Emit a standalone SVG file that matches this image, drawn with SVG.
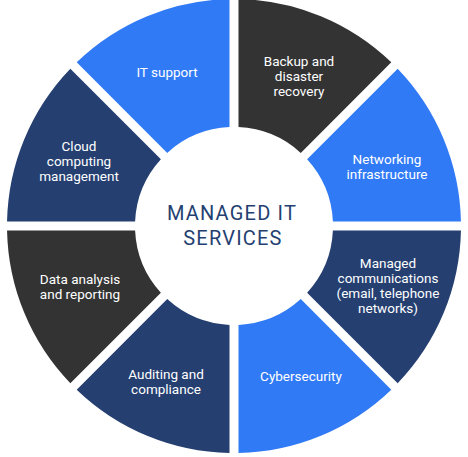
<svg xmlns="http://www.w3.org/2000/svg" xmlns:xlink="http://www.w3.org/1999/xlink" width="468" height="457" viewBox="0 0 468 457">
  <style>
    .blue { fill: #317AF6; }
    .navy { fill: #253F71; }
    .dark { fill: #333333; }
    .lbl { font-family: Roboto, "Liberation Sans", sans-serif; font-size: 13.5px; fill: #FFFFFF; text-anchor: middle; }
    .title { font-family: Roboto, "Liberation Sans", sans-serif; font-size: 20px; fill: #253F71; text-anchor: middle; letter-spacing: 1.2px; }
  </style>
  <defs>
    <path id="sec" d="M238.5,-0.96 A227,227 0 0 1 391.30,62.34 L300.75,152.89 A99,99 0 0 0 238.5,127.10 Z"/>
  </defs>
  <rect width="468" height="457" fill="#FFFFFF"/>
  <g id="connectors"/>
  <g id="backup">
    <use xlink:href="#sec" href="#sec" class="dark"/>
    <text class="lbl" x="299" y="66">Backup and</text>
    <text class="lbl" x="299" y="81">disaster</text>
    <text class="lbl" x="299" y="96">recovery</text>
  </g>
  <g id="networking">
    <use xlink:href="#sec" href="#sec" class="blue" transform="rotate(45 234 226)"/>
    <text class="lbl" x="387" y="164">Networking</text>
    <text class="lbl" x="387" y="179">infrastructure</text>
  </g>
  <g id="communications">
    <use xlink:href="#sec" href="#sec" class="navy" transform="rotate(90 234 226)"/>
    <text class="lbl" x="388" y="268">Managed</text>
    <text class="lbl" x="388" y="283">communications</text>
    <text class="lbl" x="388" y="298">(email, telephone</text>
    <text class="lbl" x="388" y="313">networks)</text>
  </g>
  <g id="cybersecurity">
    <use xlink:href="#sec" href="#sec" class="blue" transform="rotate(135 234 226)"/>
    <text class="lbl" x="301" y="381">Cybersecurity</text>
  </g>
  <g id="auditing">
    <use xlink:href="#sec" href="#sec" class="navy" transform="rotate(180 234 226)"/>
    <text class="lbl" x="166" y="379">Auditing and</text>
    <text class="lbl" x="166" y="394">compliance</text>
  </g>
  <g id="data-analysis">
    <use xlink:href="#sec" href="#sec" class="dark" transform="rotate(225 234 226)"/>
    <text class="lbl" x="80" y="284">Data analysis</text>
    <text class="lbl" x="80" y="299">and reporting</text>
  </g>
  <g id="cloud">
    <use xlink:href="#sec" href="#sec" class="navy" transform="rotate(270 234 226)"/>
    <text class="lbl" x="79" y="151">Cloud</text>
    <text class="lbl" x="79" y="166">computing</text>
    <text class="lbl" x="79" y="181">management</text>
  </g>
  <g id="it-support">
    <use xlink:href="#sec" href="#sec" class="blue" transform="rotate(315 234 226)"/>
    <text class="lbl" x="167" y="77">IT support</text>
  </g>
  <g id="center">
    <text class="title" x="232" y="220">MANAGED IT</text>
    <text class="title" x="233" y="245">SERVICES</text>
  </g>
</svg>
